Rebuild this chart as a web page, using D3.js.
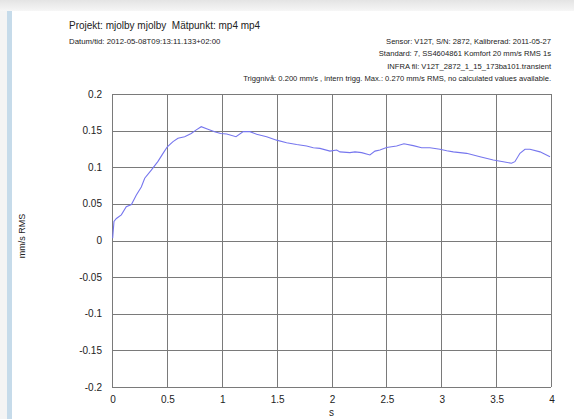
<!DOCTYPE html>
<html>
<head>
<meta charset="utf-8">
<script src="https://cdn.jsdelivr.net/npm/d3@7"></script>
<style>
  html, body { margin: 0; padding: 0; background: #fff; }
  svg { display: block; font-family: "Liberation Sans", Arial, sans-serif; }
</style>
</head>
<body>
<div id="chart"></div>
<script>
// time (s) and velocity (mm/s RMS)
const times = [0.006, 0.018, 0.04, 0.085, 0.13, 0.177, 0.222, 0.267, 0.298, 0.358, 0.419, 0.465, 0.504,
  0.556, 0.601, 0.662, 0.722, 0.768, 0.813, 0.874, 0.935, 0.99, 1.045, 1.13, 1.196, 1.257, 1.318,
  1.409, 1.5, 1.591, 1.682, 1.773, 1.834, 1.895, 1.986, 2.047, 2.077, 2.168, 2.214, 2.275, 2.35,
  2.396, 2.441, 2.502, 2.593, 2.66, 2.745, 2.821, 2.897, 2.988, 3.05, 3.11, 3.231, 3.353, 3.474,
  3.565, 3.64, 3.671, 3.717, 3.763, 3.808, 3.9, 3.991];
const values = [0.003, 0.026, 0.030, 0.035, 0.046, 0.049, 0.062, 0.073, 0.085, 0.096, 0.108, 0.119, 0.128,
  0.135, 0.1395, 0.1417, 0.146, 0.151, 0.1554, 0.152, 0.1486, 0.146, 0.1454, 0.1417, 0.1486, 0.1486, 0.145,
  0.1417, 0.137, 0.1335, 0.131, 0.129, 0.1267, 0.1258, 0.122, 0.1235, 0.121, 0.120, 0.121, 0.120, 0.1167,
  0.122, 0.1235, 0.127, 0.129, 0.132, 0.1295, 0.1267, 0.1267, 0.1245, 0.1226, 0.121, 0.119, 0.1144, 0.110,
  0.1076, 0.1054, 0.1076, 0.119, 0.1245, 0.1245, 0.121, 0.1144];

const xTicks = [0, 0.5, 1, 1.5, 2, 2.5, 3, 3.5, 4];
const yTicks = [-0.2, -0.15, -0.1, -0.05, 0, 0.05, 0.1, 0.15, 0.2];

const title = "Projekt: mjolby mjolby  Mätpunkt: mp4 mp4";
const subtitle = "Datum/tid: 2012-05-08T09:13:11.133+02:00";
const infoLines = [
  "Sensor: V12T, S/N: 2872, Kalibrerad: 2011-05-27",
  "Standard: 7, SS4604861 Komfort 20 mm/s RMS 1s",
  "INFRA fil: V12T_2872_1_15_173ba101.transient",
  "Triggnivå: 0.200 mm/s , intern trigg. Max.: 0.270 mm/s RMS, no calculated values available."
];

const width = 574, height = 419;
const plot = { left: 112, right: 551, top: 94, bottom: 387 };

const svg = d3.select("#chart").append("svg")
    .attr("width", width)
    .attr("height", height);

// window chrome: grey band on top, pale blue strip on the left
const grad = svg.append("defs").append("linearGradient")
    .attr("id", "topband").attr("x1", 0).attr("x2", 0).attr("y1", 0).attr("y2", 1);
grad.append("stop").attr("offset", "0%").attr("stop-color", "#e4e4e4");
grad.append("stop").attr("offset", "100%").attr("stop-color", "#f6f6f6");
svg.append("rect").attr("x", 0).attr("y", 0).attr("width", width).attr("height", 11)
    .attr("fill", "url(#topband)");
svg.append("rect").attr("x", 0).attr("y", 11).attr("width", 7).attr("height", height - 11)
    .attr("fill", "#f4f4f4");
svg.append("rect").attr("x", 7).attr("y", 11).attr("width", 5).attr("height", height - 11)
    .attr("fill", "#c6dbea");

const x = d3.scaleLinear().domain([0, 4]).range([plot.left, plot.right]);
const y = d3.scaleLinear().domain([-0.2, 0.2]).range([plot.bottom, plot.top]);

// grid
const grid = svg.append("g").attr("stroke", "#7a7a7a").attr("stroke-width", 1).attr("shape-rendering", "crispEdges");
grid.selectAll("line.v").data(xTicks).join("line")
    .attr("class", "v")
    .attr("x1", d => Math.round(x(d)) + 0.5).attr("x2", d => Math.round(x(d)) + 0.5)
    .attr("y1", plot.top).attr("y2", plot.bottom);
grid.selectAll("line.h").data(yTicks).join("line")
    .attr("class", "h")
    .attr("y1", d => Math.round(y(d)) + 0.5).attr("y2", d => Math.round(y(d)) + 0.5)
    .attr("x1", plot.left).attr("x2", plot.right);

// tick labels
svg.append("g").attr("font-size", 10).attr("fill", "#222").attr("text-anchor", "end")
  .selectAll("text").data(yTicks).join("text")
    .attr("x", 102)
    .attr("y", d => y(d) + 3.5)
    .text(d => d3.format("")(d).replace("−", "-"));

svg.append("g").attr("font-size", 10).attr("fill", "#222").attr("text-anchor", "middle")
  .selectAll("text").data(xTicks).join("text")
    .attr("x", d => x(d) + 1)
    .attr("y", 403)
    .text(d => d);

svg.append("text").attr("x", x(2)).attr("y", 416)
    .attr("font-size", 10).attr("fill", "#222").attr("text-anchor", "middle").text("s");

svg.append("text")
    .attr("transform", "translate(25,236) rotate(-90)")
    .attr("font-size", 9).attr("fill", "#222").attr("text-anchor", "middle")
    .text("mm/s RMS");

// curve
const line = d3.line().x(d => x(d[0])).y(d => y(d[1])).curve(d3.curveLinear);
svg.append("path")
    .datum(d3.zip(times, values))
    .attr("fill", "none")
    .attr("stroke", "#7676ee")
    .attr("stroke-width", 1.1)
    .attr("d", line);

// header texts
svg.append("text").attr("x", 69).attr("y", 29).attr("font-size", 10).attr("fill", "#222")
    .attr("xml:space", "preserve").style("white-space", "pre").text(title);
svg.append("text").attr("x", 69).attr("y", 44).attr("font-size", 7.8).attr("fill", "#222").text(subtitle);

svg.append("g").attr("font-size", 7.6).attr("fill", "#222").attr("text-anchor", "end")
  .selectAll("text").data(infoLines).join("text")
    .attr("x", 551)
    .attr("y", (d, i) => 44 + i * 12.3)
    .text(d => d);
</script>
</body>
</html>
